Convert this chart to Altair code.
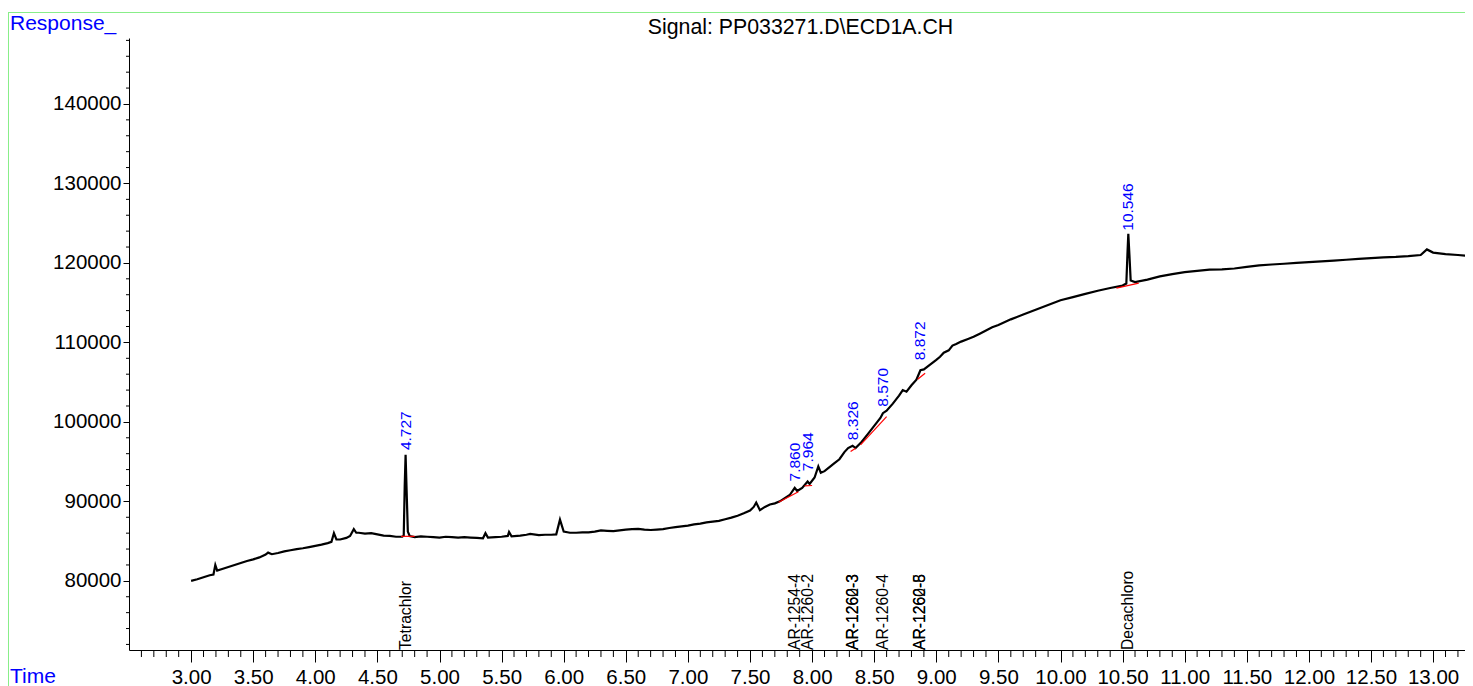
import altair as alt
import pandas as pd

# ---------------- data ----------------
times = [3.00, 3.05, 3.10, 3.15, 3.18, 3.195, 3.21, 3.25, 3.30, 3.35, 3.40, 3.45, 3.50, 3.55,
         3.60, 3.62, 3.65, 3.70, 3.75, 3.80, 3.85, 3.90, 3.95, 4.00, 4.05, 4.10, 4.13, 4.15,
         4.17, 4.20, 4.25, 4.28, 4.31, 4.33, 4.35, 4.40, 4.45, 4.50, 4.55, 4.60, 4.65, 4.70,
         4.712, 4.72, 4.727, 4.735, 4.745, 4.76, 4.80, 4.85, 4.90, 4.95, 5.00, 5.05, 5.10,
         5.15, 5.20, 5.25, 5.30, 5.35, 5.37, 5.39, 5.45, 5.50, 5.55, 5.56, 5.58, 5.65, 5.70,
         5.73, 5.80, 5.85, 5.90, 5.94, 5.97, 6.00, 6.05, 6.10, 6.15, 6.20, 6.25, 6.30, 6.35,
         6.40, 6.45, 6.50, 6.55, 6.60, 6.65, 6.70, 6.75, 6.80, 6.85, 6.90, 6.95, 7.00, 7.05,
         7.10, 7.15, 7.20, 7.25, 7.30, 7.35, 7.40, 7.45, 7.50, 7.53, 7.55, 7.58, 7.62, 7.66,
         7.70, 7.74, 7.78, 7.82, 7.86, 7.88, 7.92, 7.964, 7.98, 8.02, 8.05, 8.07, 8.10, 8.14,
         8.18, 8.22, 8.26, 8.29, 8.326, 8.35, 8.40, 8.45, 8.50, 8.55, 8.57, 8.60, 8.65, 8.70,
         8.73, 8.76, 8.80, 8.84, 8.872, 8.90, 8.95, 9.00, 9.03, 9.06, 9.10, 9.13, 9.16, 9.20,
         9.25, 9.30, 9.35, 9.40, 9.45, 9.50, 9.60, 9.70, 9.80, 9.90, 10.00, 10.10, 10.20,
         10.30, 10.40, 10.50, 10.53, 10.54, 10.546, 10.555, 10.565, 10.60, 10.70, 10.80,
         10.90, 11.00, 11.10, 11.20, 11.30, 11.40, 11.50, 11.60, 11.70, 11.80, 11.90, 12.00,
         12.10, 12.20, 12.30, 12.40, 12.50, 12.60, 12.70, 12.80, 12.90, 12.95, 13.00, 13.10,
         13.20, 13.30]
response = [80000, 80200, 80450, 80700, 80800, 82000, 81300, 81500, 81750, 82000, 82250, 82500,
            82700, 82950, 83300, 83550, 83350, 83500, 83700, 83850, 84000, 84100, 84250, 84400,
            84550, 84750, 84900, 86000, 85200, 85200, 85400, 85650, 86500, 86050, 86050, 85950,
            86000, 85850, 85700, 85650, 85550, 85550, 85700, 92000, 95850, 91500, 86200, 85650,
            85500, 85600, 85550, 85500, 85450, 85550, 85500, 85450, 85500, 85450, 85400, 85350,
            86000, 85450, 85500, 85550, 85650, 86150, 85600, 85700, 85800, 85900, 85750, 85800,
            85800, 85850, 87700, 86200, 86050, 86050, 86100, 86100, 86200, 86350, 86300, 86250,
            86350, 86450, 86500, 86550, 86450, 86400, 86450, 86500, 86650, 86750, 86850, 86950,
            87100, 87200, 87350, 87450, 87550, 87750, 87950, 88200, 88500, 88850, 89300, 89850,
            88900, 89300, 89600, 89750, 90000, 90400, 90800, 91700, 91300, 91700, 92500, 92200,
            93000, 94400, 93600, 93800, 94300, 94800, 95300, 96200, 96700, 97000, 96700, 97500,
            98500, 99500, 100500, 101100, 101400, 102300, 103300, 104000, 103800, 104600, 105300,
            106500, 106600, 107200, 107800, 108200, 108700, 109000, 109600, 109800, 110100,
            110400, 110700, 111100, 111500, 111900, 112200, 112900, 113500, 114100, 114700,
            115300, 115700, 116100, 116500, 116850, 117150, 117400, 121500, 123650, 121000,
            117800, 117600, 117900, 118300, 118600, 118850, 119000, 119150, 119200, 119300,
            119500, 119700, 119800, 119900, 120000, 120100, 120200, 120300, 120400, 120500,
            120600, 120700, 120750, 120850, 121000, 121700, 121300, 121100, 121000, 120850]

# integrated peaks: retention time and label height (response)
peak_rt = [4.727, 7.860, 7.964, 8.326, 8.570, 8.872, 10.546]
peak_label_response = [96200, 92250, 93550, 97450, 101650, 107500, 123800]

# integration baselines (start time, start response, end time, end response)
base_t1 = [4.69, 7.73, 7.94, 8.31, 8.39, 8.85, 10.45]
base_r1 = [85600, 89900, 91950, 96270, 97110, 105370, 116820]
base_t2 = [4.80, 7.89, 8.00, 8.35, 8.60, 8.91, 10.63]
base_r2 = [85600, 91200, 92000, 96690, 100670, 106130, 117450]

# compound names
comp_rt = [4.727, 7.860, 7.964, 8.326, 8.326, 8.570, 8.872, 8.872, 10.546]
comp_name = ["Tetrachlor", "AR-1254-4", "AR-1260-2", "AR-1260-3", "AR-1262-3",
             "AR-1260-4", "AR-1260-5", "AR-1262-8", "Decachloro"]

x_major = [3.0 + 0.5 * i for i in range(21)]
x_minor = [round(2.6 + 0.1 * i, 1) for i in range(107)]
y_major = [80000, 90000, 100000, 110000, 120000, 130000, 140000]
y_minor = [72000 + 2000 * i for i in range(39)]

title_text = "Signal: PP033271.D\\ECD1A.CH"

# ---------------- chart ----------------
W, H = 1336, 612
FONT = "Liberation Sans"
xs = alt.Scale(domain=[2.5, 2.5 + W / 124.2], nice=False, zero=False)
ys = alt.Scale(domain=[71300, 148300], nice=False, zero=False)

x_axis = alt.Axis(
    values=x_major, format=".2f", title="", grid=False, tickSize=12,
    labelFontSize=20.5, labelFont=FONT, labelColor="black", tickColor="black",
    domainColor="black", labelPadding=5, labelFlush=False, labelOverlap=False,
    orient="bottom")
y_axis = alt.Axis(
    values=y_major, format="d", title="", grid=False, tickSize=6,
    labelFontSize=20.5, labelFont=FONT, labelColor="black", tickColor="black",
    domainColor="black", labelPadding=2, labelFlush=False, labelOverlap=False,
    orient="left")


def X(field):
    return alt.X(field, scale=xs, axis=x_axis)


def Y(field):
    return alt.Y(field, scale=ys, axis=y_axis)


curve_df = pd.DataFrame({"t": times, "r": response})
curve = alt.Chart(curve_df).mark_line(color="black", strokeWidth=2.2, clip=True).encode(
    x=X("t:Q"), y=Y("r:Q"), order="t:Q",
)

base_df = pd.DataFrame({"t": base_t1, "r": base_r1, "t2": base_t2, "r2": base_r2})
baselines = alt.Chart(base_df).mark_rule(color="#ff0000", strokeWidth=1.2).encode(
    x=X("t:Q"), x2="t2:Q", y=Y("r:Q"), y2="r2:Q",
)

peak_df = pd.DataFrame({"t": peak_rt, "r": peak_label_response,
                        "label": [f"{v:.3f}" for v in peak_rt]})
peak_labels = alt.Chart(peak_df).mark_text(
    angle=270, align="left", baseline="middle", fontSize=15.5, font=FONT,
    color="#0000ff", dx=2).encode(
    x=X("t:Q"), y=Y("r:Q"), text="label:N",
)

comp_df = pd.DataFrame({"t": comp_rt, "name": comp_name})
comp_labels = alt.Chart(comp_df).mark_text(
    angle=270, align="left", baseline="middle", fontSize=15.7, font=FONT,
    color="black", dx=0).encode(
    x=X("t:Q"), y=alt.value(H), text="name:N",
)

xminor_df = pd.DataFrame({"t": [v for v in x_minor if abs(v * 2 - round(v * 2)) > 1e-6]})
xminor = alt.Chart(xminor_df).mark_rule(color="black", strokeWidth=1).encode(
    x=X("t:Q"), y=alt.value(H), y2=alt.value(H + 7))

yminor_df = pd.DataFrame({"r": [v for v in y_minor if v % 10000 != 0]})
yminor = alt.Chart(yminor_df).mark_rule(color="black", strokeWidth=1).encode(
    y=Y("r:Q"), x=alt.value(-3), x2=alt.value(0))

# frame (green) and fixed texts
green = "#88ee88"
frame_top = alt.Chart(pd.DataFrame({"k": [0]})).mark_rule(color=green, strokeWidth=1).encode(
    x=alt.value(-121), x2=alt.value(W), y=alt.value(-25.5))
frame_left = alt.Chart(pd.DataFrame({"k": [0]})).mark_rule(color=green, strokeWidth=1).encode(
    x=alt.value(-120.5), y=alt.value(-26), y2=alt.value(H + 40))

title = alt.Chart(pd.DataFrame({"s": [title_text]})).mark_text(
    align="center", baseline="alphabetic", fontSize=21.3, font=FONT, color="black").encode(
    x=alt.value(671.5), y=alt.value(-4), text="s:N")
resp_lbl = alt.Chart(pd.DataFrame({"s": ["Response_"]})).mark_text(
    align="left", baseline="alphabetic", fontSize=21, font=FONT, color="#0000ff").encode(
    x=alt.value(-119), y=alt.value(-8), text="s:N")
time_lbl = alt.Chart(pd.DataFrame({"s": ["Time"]})).mark_text(
    align="left", baseline="alphabetic", fontSize=21, font=FONT, color="#0000ff").encode(
    x=alt.value(-119), y=alt.value(H + 33), text="s:N")

chart = alt.layer(
    curve, baselines, peak_labels, comp_labels, xminor, yminor,
    frame_top, frame_left, title, resp_lbl, time_lbl,
).properties(
    width=W, height=H,
    autosize=alt.AutoSizeParams(type="none"),
    padding={"left": 121, "top": 30, "right": 0, "bottom": 40},
    background="white",
).configure_view(strokeWidth=0, stroke="transparent")

chart.save("out.html", embed_options={"renderer": "svg", "actions": False})
